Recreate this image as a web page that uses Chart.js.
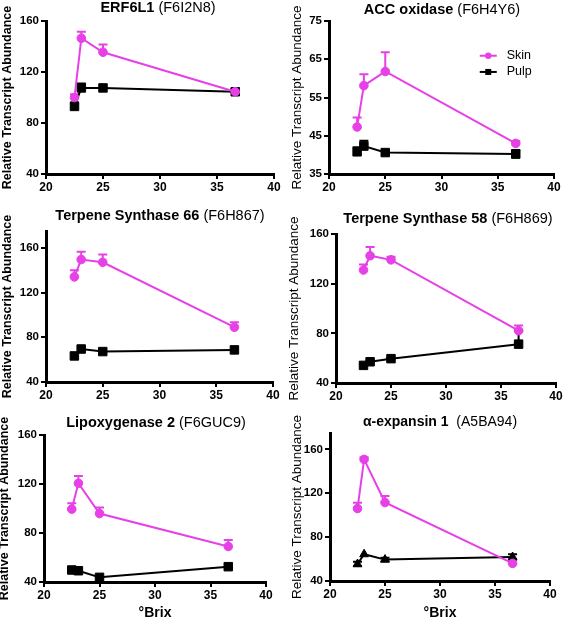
<!DOCTYPE html>
<html><head><meta charset="utf-8">
<script src="https://cdn.jsdelivr.net/npm/chart.js@4.4.1/dist/chart.umd.min.js"></script>
<style>
html,body{margin:0;padding:0;background:#fff;overflow:hidden;}
#wrap{position:relative;width:565px;height:618px;background:#fff;}
.box{position:absolute;}
.ttl{position:absolute;font-family:"Liberation Sans",Arial,Helvetica,sans-serif;white-space:nowrap;color:#000;transform:translateX(-50%);}
</style></head><body><div id="wrap"></div>
<script>
// ---- data ----
const brix = [22.5, 23.1, 25.0, 36.6];
const xTicks = [20, 25, 30, 35, 40];
const seriesNames = ['Skin', 'Pulp'];

const erfSkin = [100, 146.5, 135.5, 104.5];
const erfSkinErr = [2.5, 5, 6, 2];
const erfPulp = [93, 107.5, 107.5, 104.5];
const erfPulpErr = [3, 3.5, 0, 1.5];

const accSkin = [47.3, 58.1, 61.8, 43.0];
const accSkinErr = [2.5, 3.0, 5.0, 0.6];
const accPulp = [40.8, 42.3, 40.6, 40.2];
const accPulpErr = [1.2, 1.4, 0, 1.1];

const ts66Skin = [134, 149.5, 147, 89];
const ts66SkinErr = [6, 7, 7, 4.5];
const ts66Pulp = [63.3, 69.5, 67.2, 68.7];
const ts66PulpErr = [0, 0, 0, 0];

const ts58Skin = [131, 142.5, 139.2, 82.1];
const ts58SkinErr = [4.5, 7, 2.5, 4.3];
const ts58Pulp = [54.2, 57.1, 59.6, 71.3];
const ts58PulpErr = [1, 0.5, 0.5, 10.8];

const loxSkin = [99.5, 120.6, 95.9, 69];
const loxSkinErr = [4.8, 6, 5, 5.2];
const loxPulp = [49.8, 49.2, 43.8, 52.5];
const loxPulpErr = [0, 0, 0, 0];

const expSkin = [106.1, 150.9, 111.6, 56.1];
const expSkinErr = [5.2, 2, 6, 0];
const expPulp = [55.5, 64.4, 59.5, 61.9];
const expPulpErr = [2, 0, 1.8, 2.5];

const yTicksMain = [40, 80, 120, 160];
const yTicksAcc = [35, 45, 55, 65, 75];

// ---- layout / style ----
const FONT = '"Liberation Sans", Arial, Helvetica, sans-serif';
const MAG = '#E640E6';
const BLK = '#000000';

const panels = [
  {bold:'ERF6L1', rest:' (F6I2N8)', tSize:14.5, tx:158, ty:6.5,
   box:{l:0,t:0,w:282,h:200}, plot:{left:46,right:274,top:21,bottom:174},
   yMin:40, yMax:160, yTicks:yTicksMain, yBold:true, yTitleX:8,
   skin:erfSkin, skinErr:erfSkinErr, pulp:erfPulp, pulpErr:erfPulpErr, pulpStyle:'rect'},
  {bold:'ACC oxidase', rest:' (F6H4Y6)', tSize:14.5, tx:442, ty:9,
   box:{l:282,t:0,w:283,h:200}, plot:{left:329,right:554,top:21,bottom:174},
   yMin:35, yMax:75, yTicks:yTicksAcc, yBold:false, yTitleX:297,
   skin:accSkin, skinErr:accSkinErr, pulp:accPulp, pulpErr:accPulpErr, pulpStyle:'rect', legend:true},
  {bold:'Terpene Synthase 66', rest:' (F6H867)', tSize:14.5, tx:160, ty:215,
   box:{l:0,t:200,w:282,h:200}, plot:{left:46,right:273,top:231,bottom:382},
   yMin:40, yMax:175, yTicks:yTicksMain, yBold:true, yTitleX:8,
   skin:ts66Skin, skinErr:ts66SkinErr, pulp:ts66Pulp, pulpErr:ts66PulpErr, pulpStyle:'rect'},
  {bold:'Terpene Synthase 58', rest:' (F6H869)', tSize:14.5, tx:448, ty:218,
   box:{l:282,t:200,w:283,h:200}, plot:{left:336,right:556,top:234,bottom:383},
   yMin:40, yMax:160, yTicks:yTicksMain, yBold:false, yTitleX:294,
   skin:ts58Skin, skinErr:ts58SkinErr, pulp:ts58Pulp, pulpErr:ts58PulpErr, pulpStyle:'rect'},
  {bold:'Lipoxygenase 2', rest:' (F6GUC9)', tSize:14.5, tx:156, ty:422,
   box:{l:0,t:400,w:282,h:218}, plot:{left:44,right:266,top:435,bottom:582},
   yMin:40, yMax:160, yTicks:yTicksMain, yBold:true, yTitleX:5, xTitle:'°Brix',
   skin:loxSkin, skinErr:loxSkinErr, pulp:loxPulp, pulpErr:loxPulpErr, pulpStyle:'rect'},
  {bold:'α-expansin 1', rest:'  (A5BA94)', tSize:14, tx:440, ty:421,
   box:{l:282,t:400,w:283,h:218}, plot:{left:330,right:550,top:433,bottom:581},
   yMin:40, yMax:175, yTicks:yTicksMain, yBold:false, yTitleX:297, xTitle:'°Brix',
   skin:expSkin, skinErr:expSkinErr, pulp:expPulp, pulpErr:expPulpErr, pulpStyle:'triangle', pulpBoth:true}
];

const errorBarPlugin = {
  id: 'errbars',
  beforeDatasetsDraw(chart) {
    const {ctx, scales: {x, y}} = chart;
    chart.data.datasets.forEach(ds => {
      if (!ds.errs) return;
      ctx.save();
      ctx.strokeStyle = ds.borderColor;
      ctx.lineWidth = 2;
      ds.data.forEach((pt, i) => {
        const e = ds.errs[i];
        if (!e) return;
        const px = x.getPixelForValue(pt.x);
        const py = y.getPixelForValue(pt.y);
        const pu = y.getPixelForValue(pt.y + e);
        ctx.beginPath();
        ctx.moveTo(px, py); ctx.lineTo(px, pu);
        ctx.moveTo(px - 4.5, pu); ctx.lineTo(px + 4.5, pu);
        if (ds.errBoth) {
          const pl = y.getPixelForValue(pt.y - e);
          ctx.moveTo(px, py); ctx.lineTo(px, pl);
          ctx.moveTo(px - 4.5, pl); ctx.lineTo(px + 4.5, pl);
        }
        ctx.stroke();
      });
      ctx.restore();
    });
  }
};

const legendPlugin = {
  id: 'insideLegend',
  afterDraw(chart) {
    if (!chart.options.plugins.insideLegend || !chart.options.plugins.insideLegend.show) return;
    const {ctx, chartArea: a} = chart;
    const w = a.right - a.left, h = a.bottom - a.top;
    const x0 = a.left + w * 0.67;
    const rows = [a.top + h * 0.227, a.top + h * 0.333];
    chart.data.datasets.forEach((ds, i) => {
      const yy = rows[i];
      ctx.save();
      ctx.strokeStyle = ds.borderColor; ctx.fillStyle = ds.borderColor; ctx.lineWidth = 2;
      ctx.beginPath(); ctx.moveTo(x0, yy); ctx.lineTo(x0 + 17, yy); ctx.stroke();
      const mx = x0 + 8.5;
      if (ds.pointStyle === 'circle') {
        ctx.beginPath(); ctx.arc(mx, yy, 3.2, 0, Math.PI * 2); ctx.fill();
      } else {
        ctx.fillRect(mx - 3, yy - 3, 6, 6);
      }
      ctx.fillStyle = '#000';
      ctx.font = '12.5px ' + FONT;
      ctx.textBaseline = 'middle'; ctx.textAlign = 'left';
      ctx.fillText(ds.label, x0 + 27, yy);
      ctx.restore();
    });
  }
};

const wrap = document.getElementById('wrap');

panels.forEach(p => {
  const div = document.createElement('div');
  div.className = 'box';
  div.style.left = p.box.l + 'px'; div.style.top = p.box.t + 'px';
  div.style.width = p.box.w + 'px'; div.style.height = p.box.h + 'px';
  const cv = document.createElement('canvas');
  cv.width = p.box.w; cv.height = p.box.h;
  cv.style.width = p.box.w + 'px'; cv.style.height = p.box.h + 'px';
  div.appendChild(cv);
  wrap.appendChild(div);

  const t = document.createElement('div');
  t.className = 'ttl';
  t.style.fontSize = p.tSize + 'px';
  t.style.lineHeight = '16px';
  t.style.left = p.tx + 'px';
  t.style.top = (p.ty - 8) + 'px';
  const b = document.createElement('b'); b.textContent = p.bold;
  t.appendChild(b);
  t.appendChild(document.createTextNode(p.rest.replace(/ /g, '\u00a0')));
  wrap.appendChild(t);

  const yAxisW = p.plot.left - p.box.l;
  const xAxisH = p.box.t + p.box.h - p.plot.bottom;
  const padTop = p.plot.top - p.box.t;
  const padRight = p.box.l + p.box.w - p.plot.right;
  const ySize = p.yBold ? 12.5 : 13.5;
  const yLH = ySize * 1.2;
  const yTitlePad = (p.yTitleX - p.box.l) - yLH / 2;

  const gridOpts = {display: true, drawOnChartArea: false, drawTicks: true, tickLength: 5, color: BLK, lineWidth: 2};
  const borderOpts = {display: true, color: BLK, width: 3};

  new Chart(cv, {
    type: 'scatter',
    data: {
      datasets: [
        {label: seriesNames[0], data: brix.map((x, i) => ({x, y: p.skin[i]})), errs: p.skinErr,
         showLine: true, borderColor: MAG, backgroundColor: MAG, borderWidth: 2,
         pointStyle: 'circle', pointRadius: 4.3, pointBorderWidth: 1, pointBorderColor: MAG, pointBackgroundColor: MAG},
        {label: seriesNames[1], data: brix.map((x, i) => ({x, y: p.pulp[i]})), errs: p.pulpErr, errBoth: !!p.pulpBoth,
         showLine: true, borderColor: BLK, backgroundColor: BLK, borderWidth: 2,
         pointStyle: p.pulpStyle, pointRadius: p.pulpStyle === 'rect' ? 6 : 5, pointBorderWidth: 1,
         pointBorderColor: BLK, pointBackgroundColor: BLK}
      ]
    },
    options: {
      responsive: false, animation: false, devicePixelRatio: 1, events: [],
      layout: {padding: {left: 0, top: padTop, right: padRight, bottom: 0}},
      plugins: {legend: {display: false}, tooltip: {enabled: false}, title: {display: false},
                insideLegend: {show: !!p.legend}},
      scales: {
        x: {
          type: 'linear', min: 20, max: 40,
          afterBuildTicks: s => { s.ticks = xTicks.map(v => ({value: v})); },
          afterFit: s => { s.height = xAxisH; },
          ticks: {color: BLK, font: {family: FONT, size: 12, weight: 'bold'}, padding: 1, maxRotation: 0},
          grid: gridOpts, border: borderOpts,
          title: p.xTitle ? {display: true, text: p.xTitle, color: BLK,
                  font: {family: FONT, size: 14, weight: 'bold', lineHeight: 1}, padding: {top: 0, bottom: -2}} : {display: false}
        },
        y: {
          type: 'linear', min: p.yMin, max: p.yMax,
          afterBuildTicks: s => { s.ticks = p.yTicks.map(v => ({value: v})); },
          afterFit: s => { s.width = yAxisW; },
          ticks: {color: BLK, font: {family: FONT, size: 11.5, weight: 'bold'}, padding: 2},
          grid: gridOpts, border: borderOpts,
          title: {display: true, text: 'Relative Transcript Abundance', color: BLK,
                  font: {family: FONT, size: ySize, weight: p.yBold ? 'bold' : 'normal', lineHeight: 1.2},
                  padding: {top: yTitlePad, bottom: 0}}
        }
      }
    },
    plugins: [errorBarPlugin, legendPlugin]
  });
});
</script>
</body></html>
